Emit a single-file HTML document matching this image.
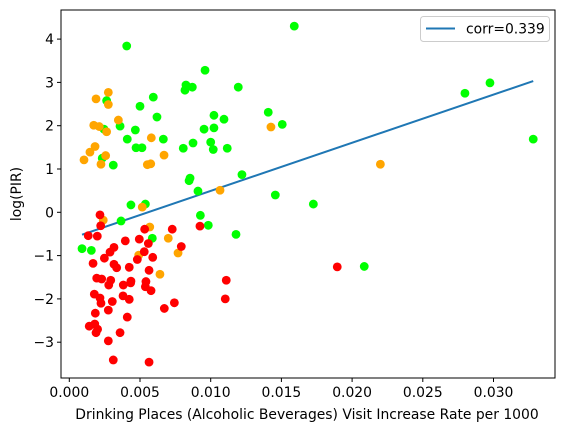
<!DOCTYPE html>
<html><head><meta charset="utf-8"><style>
body{margin:0;background:#fff}
svg{display:block;font-family:"DejaVu Sans","Liberation Sans",sans-serif}
</style></head><body>
<svg id="chart" width="565" height="432" viewBox="0 0 565 432">
<rect width="565" height="432" fill="#fff"/>
<g id="plot"></g>
<rect x="61" y="10" width="494" height="368" fill="none" stroke="#000" stroke-width="1"/>
<g id="xt"></g>
<g id="yt"></g>
<text x="307" y="419" font-size="13.9" text-anchor="middle">Drinking Places (Alcoholic Beverages) Visit Increase Rate per 1000</text>
<text x="21" y="194" font-size="13.9" text-anchor="middle" transform="rotate(-90 21 194)">log(PIR)</text>
<g>
<rect x="420.5" y="16.5" width="129" height="25" rx="3" fill="#fff" fill-opacity="0.8" stroke="#ccc"/>
<line x1="426" y1="28.5" x2="455" y2="28.5" stroke="#1f77b4" stroke-width="2"/>
<text x="466" y="33.5" font-size="13.9">corr=0.339</text>
</g>
</svg>
<script>
const xTicks=[0,0.005,0.010,0.015,0.020,0.025,0.030];
const xTickLabels=["0.000","0.005","0.010","0.015","0.020","0.025","0.030"];
const yTicks=[-3,-2,-1,0,1,2,3,4];
const yTickLabels=["\u22123","\u22122","\u22121","0","1","2","3","4"];
const greenX=[0.00406,0.0096,0.00825,0.00818,0.0087,0.01195,0.00264,0.00594,0.0050,0.0062,0.01023,0.01094,0.00245,0.00359,0.00467,0.00953,0.01023,0.0041,0.00665,0.00875,0.0100,0.00472,0.00514,0.00806,0.01018,0.01117,0.00233,0.00311,0.00854,0.00847,0.01221,0.0091,0.01591,0.01407,0.01506,0.02798,0.02975,0.03281,0.01457,0.01726,0.02086,0.00436,0.00538,0.00366,0.00927,0.00983,0.01179,0.00587,0.0009,0.00156];
const greenY=[3.84,3.28,2.94,2.82,2.89,2.89,2.58,2.66,2.45,2.2,2.24,2.15,1.92,1.99,1.9,1.92,1.95,1.69,1.69,1.6,1.62,1.49,1.49,1.48,1.45,1.48,1.25,1.09,0.79,0.73,0.87,0.49,4.30,2.31,2.03,2.75,2.99,1.69,0.40,0.19,-1.25,0.17,0.19,-0.2,-0.07,-0.30,-0.51,-0.60,-0.84,-0.88];
const orangeX=[0.00276,0.00189,0.00276,0.00347,0.00173,0.00212,0.00264,0.0058,0.00182,0.00146,0.00257,0.00104,0.00224,0.0067,0.00552,0.00576,0.01066,0.01426,0.0220,0.00516,0.0024,0.00569,0.0070,0.00769,0.00491,0.00641];
const orangeY=[2.77,2.62,2.49,2.13,2.01,1.98,1.86,1.72,1.52,1.39,1.31,1.21,1.11,1.32,1.10,1.12,0.51,1.97,1.11,0.12,-0.18,-0.34,-0.60,-0.94,-0.99,-1.43];
const redX=[0.00217,0.00222,0.00134,0.00198,0.00533,0.00728,0.00924,0.00396,0.00495,0.00559,0.00792,0.00316,0.00288,0.0053,0.00248,0.0059,0.00481,0.00168,0.00316,0.00335,0.00424,0.00564,0.00194,0.00229,0.00293,0.00279,0.00382,0.00436,0.00434,0.00542,0.00538,0.00578,0.0111,0.00177,0.00217,0.00224,0.00304,0.0038,0.00424,0.00276,0.00672,0.00743,0.01103,0.00184,0.0041,0.00141,0.0018,0.0020,0.00189,0.00359,0.00276,0.00311,0.00564,0.01895];
const redY=[-0.06,-0.31,-0.54,-0.55,-0.39,-0.39,-0.32,-0.66,-0.62,-0.72,-0.79,-0.81,-0.92,-0.91,-1.06,-1.04,-1.09,-1.18,-1.20,-1.28,-1.27,-1.34,-1.52,-1.54,-1.57,-1.68,-1.68,-1.59,-1.63,-1.60,-1.72,-1.81,-1.57,-1.89,-1.98,-2.10,-2.06,-1.93,-2.01,-2.26,-2.22,-2.09,-2.0,-2.33,-2.42,-2.63,-2.58,-2.70,-2.78,-2.78,-2.97,-3.41,-3.46,-1.26];
const fitSlope=111.2;
const fitIntercept=-0.618;
const NS="http://www.w3.org/2000/svg";
function sx(v){return 69.3+v*14140;}
function sy(v){return 212.3-43.3*v;}
function mk(tag,attrs,parent){const e=document.createElementNS(NS,tag);for(const k in attrs)e.setAttribute(k,attrs[k]);parent.appendChild(e);return e;}
const plot=document.getElementById('plot');
const allX=greenX.concat(orangeX,redX);
const xmin=Math.min(...allX),xmax=Math.max(...allX);
const fl=mk('line',{x1:sx(xmin),y1:sy(fitIntercept+fitSlope*xmin),x2:sx(xmax),y2:sy(fitIntercept+fitSlope*xmax),stroke:'#1f77b4','stroke-width':2},plot);


function series(xs,ys,color,name){
  for(let i=0;i<xs.length;i++){
    const c=mk('circle',{cx:sx(xs[i]),cy:sy(ys[i]),r:4.4,fill:color},plot);
    
    
  }
}
series(greenX,greenY,'#00ff00','green');
series(orangeX,orangeY,'#ffa500','orange');
series(redX,redY,'#ff0000','red');
const xt=document.getElementById('xt');
xTicks.forEach((v,i)=>{
  const l=mk('line',{x1:sx(v),x2:sx(v),y1:378,y2:382,stroke:'#000'},xt);
  
  
  const t=mk('text',{x:sx(v),y:397,'font-size':13.9,'text-anchor':'middle'},xt);
  t.textContent=xTickLabels[i];
  
  
});
const yt=document.getElementById('yt');
yTicks.forEach((v,i)=>{
  const l=mk('line',{x1:57,x2:61,y1:sy(v),y2:sy(v),stroke:'#000'},yt);
  
  
  const t=mk('text',{x:54,y:sy(v)+5,'font-size':13.9,'text-anchor':'end'},yt);
  t.textContent=yTickLabels[i];
  
  
});
</script>
</body></html>
